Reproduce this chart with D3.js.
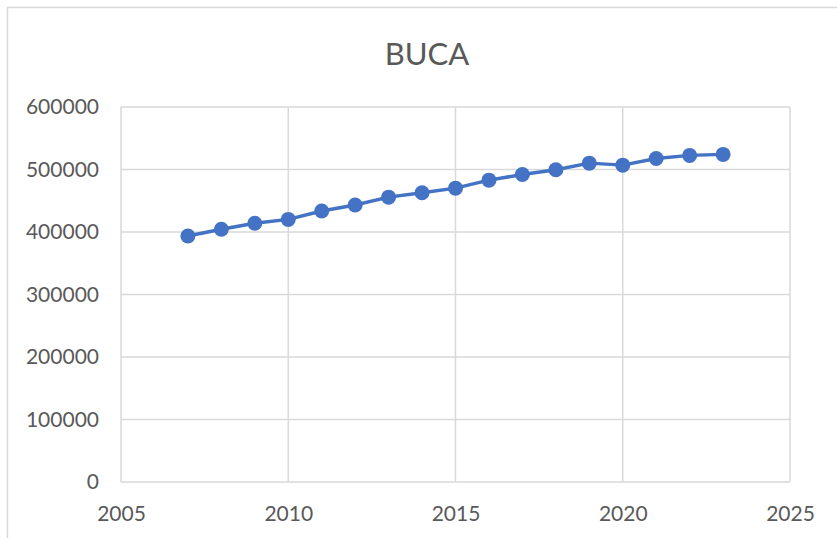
<!DOCTYPE html>
<html>
<head>
<meta charset="utf-8">
<script src="https://cdn.jsdelivr.net/npm/d3@7"></script>
<style>
  body { margin: 0; background: #fff; }
  svg { display: block; font-family: Lato, 'Open Sans', sans-serif; }
</style>
</head>
<body>
<div id="chart"></div>
<script>
const chartTitle = 'BUCA';
const years = [2007, 2008, 2009, 2010, 2011, 2012, 2013, 2014, 2015, 2016, 2017, 2018, 2019, 2020, 2021, 2022, 2023];
const population = [393600, 404300, 413900, 420200, 433500, 443100, 455800, 462800, 470200, 483000, 491900, 499500, 510200, 507000, 517700, 522600, 524200];
const xTicks = [2005, 2010, 2015, 2020, 2025];
const yTicks = [0, 100000, 200000, 300000, 400000, 500000, 600000];

const width = 837;
const height = 538;
const margin = { top: 107, right: 47, bottom: 56, left: 121 };

const svg = d3.select('#chart')
  .append('svg')
  .attr('width', width)
  .attr('height', height);

// chart frame
svg.append('rect')
  .attr('x', 7.5)
  .attr('y', 7.5)
  .attr('width', 900)
  .attr('height', 600)
  .attr('fill', 'none')
  .attr('stroke', '#d9d9d9')
  .attr('stroke-width', 1.5);

svg.append('text')
  .attr('x', 427)
  .attr('y', 65)
  .attr('text-anchor', 'middle')
  .attr('fill', '#595959')
  .style('font-size', '31px')
  .text(chartTitle);

const x = d3.scaleLinear()
  .domain([2005, 2025])
  .range([margin.left, width - margin.right]);

const y = d3.scaleLinear()
  .domain([0, 600000])
  .range([height - margin.bottom, margin.top]);

// gridlines
svg.append('g')
  .selectAll('line')
  .data(yTicks)
  .enter()
  .append('line')
  .attr('x1', x(2005))
  .attr('x2', x(2025))
  .attr('y1', d => y(d))
  .attr('y2', d => y(d))
  .attr('stroke', '#d9d9d9')
  .attr('stroke-width', 1.5);

svg.append('g')
  .selectAll('line')
  .data(xTicks)
  .enter()
  .append('line')
  .attr('x1', d => x(d))
  .attr('x2', d => x(d))
  .attr('y1', y(0))
  .attr('y2', y(600000))
  .attr('stroke', '#d9d9d9')
  .attr('stroke-width', 1.5);

// axes (labels only)
const yAxis = svg.append('g')
  .attr('transform', `translate(${margin.left},0)`)
  .call(d3.axisLeft(y).tickValues(yTicks).tickSize(0).tickPadding(22).tickFormat(d3.format('d')));
yAxis.select('.domain').remove();
yAxis.selectAll('text')
  .attr('fill', '#595959')
  .style('font-family', 'Lato, sans-serif')
  .style('font-size', '21px');

const xAxis = svg.append('g')
  .attr('transform', `translate(0,${height - margin.bottom})`)
  .call(d3.axisBottom(x).tickValues(xTicks).tickSize(0).tickPadding(24).tickFormat(d3.format('d')));
xAxis.select('.domain').remove();
xAxis.selectAll('text')
  .attr('fill', '#595959')
  .style('font-family', 'Lato, sans-serif')
  .style('font-size', '21px');

const line = d3.line()
  .x((d, i) => x(years[i]))
  .y(d => y(d));

svg.append('path')
  .datum(population)
  .attr('d', line)
  .attr('fill', 'none')
  .attr('stroke', '#4472c4')
  .attr('stroke-width', 3.5)
  .attr('stroke-linejoin', 'round');

svg.append('g')
  .selectAll('circle')
  .data(population)
  .enter()
  .append('circle')
  .attr('cx', (d, i) => x(years[i]))
  .attr('cy', d => y(d))
  .attr('r', 7.5)
  .attr('fill', '#4472c4');
</script>
</body>
</html>
